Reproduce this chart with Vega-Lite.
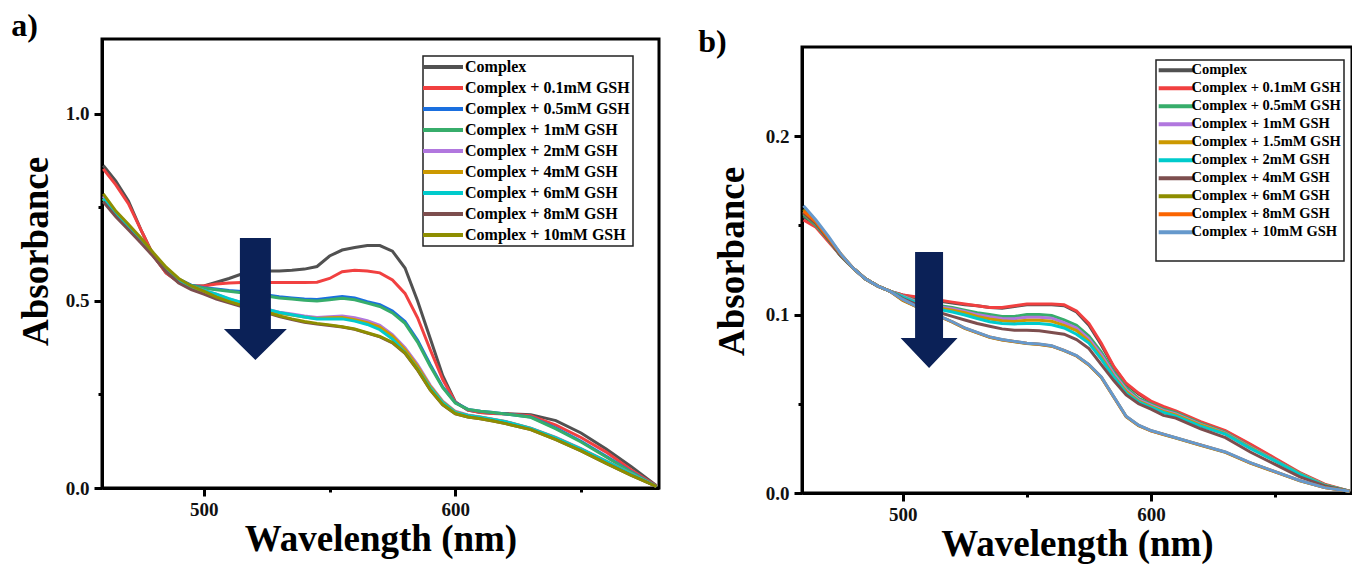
{
"$schema": "https://vega.github.io/schema/vega-lite/v6.json",
"background": "white",
"padding": {"left": 9, "top": 8, "right": 0, "bottom": 0},
"config": {
  "font": "Liberation Serif",
  "view": {"stroke": "black", "strokeWidth": 3},
  "axis": {"grid": false, "domainColor": "black", "domainWidth": 3, "tickColor": "black", "tickWidth": 3,
    "labelFont": "Liberation Serif", "labelFontWeight": "bold", "labelFontSize": 19, "labelColor": "#111",
    "titleFont": "Liberation Serif", "titleFontWeight": "bold", "titleFontSize": 37, "titleColor": "black"},
  "legend": {"labelFont": "Liberation Serif", "labelFontWeight": "bold", "labelColor": "black", "labelLimit": 400, "strokeColor": "#222", "fillColor": "white", "strokeWidth": 1.5, "symbolStrokeWidth": 4, "title": null},
  "title": {"font": "Liberation Serif", "fontWeight": "bold", "fontSize": 32, "color": "black", "anchor": "start", "frame": "bounds"}
},
"datasets": {
"a": [
{"s":0,"w":460,"v":0.862},{"s":0,"w":465,"v":0.82},{"s":0,"w":470,"v":0.767},{"s":0,"w":475,"v":0.69},{"s":0,"w":480,"v":0.62},{"s":0,"w":485,"v":0.575},{"s":0,"w":490,"v":0.55},{"s":0,"w":495,"v":0.54},{"s":0,"w":500,"v":0.54},{"s":0,"w":505,"v":0.55},{"s":0,"w":510,"v":0.56},{"s":0,"w":515,"v":0.572},{"s":0,"w":520,"v":0.576},{"s":0,"w":525,"v":0.58},{"s":0,"w":530,"v":0.58},{"s":0,"w":535,"v":0.582},{"s":0,"w":540,"v":0.585},{"s":0,"w":545,"v":0.592},{"s":0,"w":550,"v":0.62},{"s":0,"w":555,"v":0.636},{"s":0,"w":560,"v":0.643},{"s":0,"w":565,"v":0.648},{"s":0,"w":570,"v":0.648},{"s":0,"w":575,"v":0.633},{"s":0,"w":580,"v":0.588},{"s":0,"w":585,"v":0.5},{"s":0,"w":590,"v":0.4},{"s":0,"w":595,"v":0.3},{"s":0,"w":600,"v":0.23},{"s":0,"w":605,"v":0.208},{"s":0,"w":610,"v":0.202},{"s":0,"w":615,"v":0.2},{"s":0,"w":620,"v":0.199},{"s":0,"w":630,"v":0.196},{"s":0,"w":640,"v":0.18},{"s":0,"w":650,"v":0.147},{"s":0,"w":660,"v":0.104},{"s":0,"w":670,"v":0.057},{"s":0,"w":680,"v":0.006},
{"s":1,"w":460,"v":0.853},{"s":1,"w":465,"v":0.81},{"s":1,"w":470,"v":0.76},{"s":1,"w":475,"v":0.69},{"s":1,"w":480,"v":0.62},{"s":1,"w":485,"v":0.575},{"s":1,"w":490,"v":0.55},{"s":1,"w":495,"v":0.54},{"s":1,"w":500,"v":0.54},{"s":1,"w":505,"v":0.545},{"s":1,"w":510,"v":0.548},{"s":1,"w":515,"v":0.549},{"s":1,"w":520,"v":0.549},{"s":1,"w":525,"v":0.549},{"s":1,"w":530,"v":0.549},{"s":1,"w":535,"v":0.549},{"s":1,"w":540,"v":0.549},{"s":1,"w":545,"v":0.55},{"s":1,"w":550,"v":0.56},{"s":1,"w":555,"v":0.578},{"s":1,"w":560,"v":0.582},{"s":1,"w":565,"v":0.58},{"s":1,"w":570,"v":0.575},{"s":1,"w":575,"v":0.556},{"s":1,"w":580,"v":0.52},{"s":1,"w":585,"v":0.455},{"s":1,"w":590,"v":0.37},{"s":1,"w":595,"v":0.29},{"s":1,"w":600,"v":0.23},{"s":1,"w":605,"v":0.208},{"s":1,"w":610,"v":0.202},{"s":1,"w":615,"v":0.199},{"s":1,"w":620,"v":0.198},{"s":1,"w":630,"v":0.193},{"s":1,"w":640,"v":0.168},{"s":1,"w":650,"v":0.135},{"s":1,"w":660,"v":0.096},{"s":1,"w":670,"v":0.048},{"s":1,"w":680,"v":0.005},
{"s":2,"w":460,"v":0.78},{"s":2,"w":465,"v":0.735},{"s":2,"w":470,"v":0.7},{"s":2,"w":475,"v":0.665},{"s":2,"w":480,"v":0.625},{"s":2,"w":485,"v":0.585},{"s":2,"w":490,"v":0.558},{"s":2,"w":495,"v":0.542},{"s":2,"w":500,"v":0.535},{"s":2,"w":505,"v":0.532},{"s":2,"w":510,"v":0.528},{"s":2,"w":515,"v":0.525},{"s":2,"w":520,"v":0.522},{"s":2,"w":525,"v":0.516},{"s":2,"w":530,"v":0.511},{"s":2,"w":535,"v":0.508},{"s":2,"w":540,"v":0.505},{"s":2,"w":545,"v":0.504},{"s":2,"w":550,"v":0.508},{"s":2,"w":555,"v":0.512},{"s":2,"w":560,"v":0.508},{"s":2,"w":565,"v":0.498},{"s":2,"w":570,"v":0.49},{"s":2,"w":575,"v":0.473},{"s":2,"w":580,"v":0.445},{"s":2,"w":585,"v":0.395},{"s":2,"w":590,"v":0.33},{"s":2,"w":595,"v":0.27},{"s":2,"w":600,"v":0.228},{"s":2,"w":605,"v":0.21},{"s":2,"w":610,"v":0.205},{"s":2,"w":615,"v":0.202},{"s":2,"w":620,"v":0.198},{"s":2,"w":630,"v":0.19},{"s":2,"w":640,"v":0.16},{"s":2,"w":650,"v":0.125},{"s":2,"w":660,"v":0.085},{"s":2,"w":670,"v":0.043},{"s":2,"w":680,"v":0.004},
{"s":3,"w":460,"v":0.775},{"s":3,"w":465,"v":0.73},{"s":3,"w":470,"v":0.695},{"s":3,"w":475,"v":0.663},{"s":3,"w":480,"v":0.624},{"s":3,"w":485,"v":0.584},{"s":3,"w":490,"v":0.557},{"s":3,"w":495,"v":0.541},{"s":3,"w":500,"v":0.534},{"s":3,"w":505,"v":0.53},{"s":3,"w":510,"v":0.526},{"s":3,"w":515,"v":0.522},{"s":3,"w":520,"v":0.519},{"s":3,"w":525,"v":0.513},{"s":3,"w":530,"v":0.508},{"s":3,"w":535,"v":0.505},{"s":3,"w":540,"v":0.502},{"s":3,"w":545,"v":0.5},{"s":3,"w":550,"v":0.503},{"s":3,"w":555,"v":0.507},{"s":3,"w":560,"v":0.503},{"s":3,"w":565,"v":0.494},{"s":3,"w":570,"v":0.485},{"s":3,"w":575,"v":0.468},{"s":3,"w":580,"v":0.44},{"s":3,"w":585,"v":0.39},{"s":3,"w":590,"v":0.326},{"s":3,"w":595,"v":0.268},{"s":3,"w":600,"v":0.227},{"s":3,"w":605,"v":0.21},{"s":3,"w":610,"v":0.205},{"s":3,"w":615,"v":0.202},{"s":3,"w":620,"v":0.198},{"s":3,"w":630,"v":0.189},{"s":3,"w":640,"v":0.158},{"s":3,"w":650,"v":0.123},{"s":3,"w":660,"v":0.083},{"s":3,"w":670,"v":0.042},{"s":3,"w":680,"v":0.004},
{"s":4,"w":460,"v":0.78},{"s":4,"w":465,"v":0.735},{"s":4,"w":470,"v":0.7},{"s":4,"w":475,"v":0.665},{"s":4,"w":480,"v":0.625},{"s":4,"w":485,"v":0.585},{"s":4,"w":490,"v":0.555},{"s":4,"w":495,"v":0.538},{"s":4,"w":500,"v":0.528},{"s":4,"w":505,"v":0.518},{"s":4,"w":510,"v":0.505},{"s":4,"w":515,"v":0.495},{"s":4,"w":520,"v":0.487},{"s":4,"w":525,"v":0.478},{"s":4,"w":530,"v":0.47},{"s":4,"w":535,"v":0.465},{"s":4,"w":540,"v":0.46},{"s":4,"w":545,"v":0.456},{"s":4,"w":550,"v":0.458},{"s":4,"w":555,"v":0.46},{"s":4,"w":560,"v":0.455},{"s":4,"w":565,"v":0.447},{"s":4,"w":570,"v":0.435},{"s":4,"w":575,"v":0.41},{"s":4,"w":580,"v":0.375},{"s":4,"w":585,"v":0.33},{"s":4,"w":590,"v":0.275},{"s":4,"w":595,"v":0.232},{"s":4,"w":600,"v":0.205},{"s":4,"w":605,"v":0.195},{"s":4,"w":610,"v":0.19},{"s":4,"w":615,"v":0.184},{"s":4,"w":620,"v":0.178},{"s":4,"w":630,"v":0.16},{"s":4,"w":640,"v":0.135},{"s":4,"w":650,"v":0.105},{"s":4,"w":660,"v":0.072},{"s":4,"w":670,"v":0.038},{"s":4,"w":680,"v":0.004},
{"s":5,"w":460,"v":0.772},{"s":5,"w":465,"v":0.73},{"s":5,"w":470,"v":0.697},{"s":5,"w":475,"v":0.662},{"s":5,"w":480,"v":0.622},{"s":5,"w":485,"v":0.582},{"s":5,"w":490,"v":0.553},{"s":5,"w":495,"v":0.536},{"s":5,"w":500,"v":0.526},{"s":5,"w":505,"v":0.515},{"s":5,"w":510,"v":0.502},{"s":5,"w":515,"v":0.492},{"s":5,"w":520,"v":0.484},{"s":5,"w":525,"v":0.475},{"s":5,"w":530,"v":0.467},{"s":5,"w":535,"v":0.462},{"s":5,"w":540,"v":0.457},{"s":5,"w":545,"v":0.453},{"s":5,"w":550,"v":0.455},{"s":5,"w":555,"v":0.456},{"s":5,"w":560,"v":0.45},{"s":5,"w":565,"v":0.442},{"s":5,"w":570,"v":0.43},{"s":5,"w":575,"v":0.406},{"s":5,"w":580,"v":0.37},{"s":5,"w":585,"v":0.325},{"s":5,"w":590,"v":0.272},{"s":5,"w":595,"v":0.23},{"s":5,"w":600,"v":0.203},{"s":5,"w":605,"v":0.194},{"s":5,"w":610,"v":0.189},{"s":5,"w":615,"v":0.183},{"s":5,"w":620,"v":0.177},{"s":5,"w":630,"v":0.159},{"s":5,"w":640,"v":0.134},{"s":5,"w":650,"v":0.104},{"s":5,"w":660,"v":0.071},{"s":5,"w":670,"v":0.037},{"s":5,"w":680,"v":0.004},
{"s":6,"w":460,"v":0.773},{"s":6,"w":465,"v":0.732},{"s":6,"w":470,"v":0.698},{"s":6,"w":475,"v":0.664},{"s":6,"w":480,"v":0.624},{"s":6,"w":485,"v":0.584},{"s":6,"w":490,"v":0.555},{"s":6,"w":495,"v":0.538},{"s":6,"w":500,"v":0.528},{"s":6,"w":505,"v":0.518},{"s":6,"w":510,"v":0.506},{"s":6,"w":515,"v":0.496},{"s":6,"w":520,"v":0.488},{"s":6,"w":525,"v":0.478},{"s":6,"w":530,"v":0.469},{"s":6,"w":535,"v":0.463},{"s":6,"w":540,"v":0.457},{"s":6,"w":545,"v":0.452},{"s":6,"w":550,"v":0.452},{"s":6,"w":555,"v":0.452},{"s":6,"w":560,"v":0.446},{"s":6,"w":565,"v":0.437},{"s":6,"w":570,"v":0.423},{"s":6,"w":575,"v":0.398},{"s":6,"w":580,"v":0.362},{"s":6,"w":585,"v":0.318},{"s":6,"w":590,"v":0.268},{"s":6,"w":595,"v":0.228},{"s":6,"w":600,"v":0.202},{"s":6,"w":605,"v":0.194},{"s":6,"w":610,"v":0.189},{"s":6,"w":615,"v":0.183},{"s":6,"w":620,"v":0.177},{"s":6,"w":630,"v":0.159},{"s":6,"w":640,"v":0.134},{"s":6,"w":650,"v":0.104},{"s":6,"w":660,"v":0.071},{"s":6,"w":670,"v":0.037},{"s":6,"w":680,"v":0.004},
{"s":7,"w":460,"v":0.765},{"s":7,"w":465,"v":0.725},{"s":7,"w":470,"v":0.69},{"s":7,"w":475,"v":0.655},{"s":7,"w":480,"v":0.618},{"s":7,"w":485,"v":0.578},{"s":7,"w":490,"v":0.548},{"s":7,"w":495,"v":0.53},{"s":7,"w":500,"v":0.518},{"s":7,"w":505,"v":0.505},{"s":7,"w":510,"v":0.495},{"s":7,"w":515,"v":0.485},{"s":7,"w":520,"v":0.478},{"s":7,"w":525,"v":0.468},{"s":7,"w":530,"v":0.458},{"s":7,"w":535,"v":0.45},{"s":7,"w":540,"v":0.443},{"s":7,"w":545,"v":0.438},{"s":7,"w":550,"v":0.434},{"s":7,"w":555,"v":0.43},{"s":7,"w":560,"v":0.424},{"s":7,"w":565,"v":0.414},{"s":7,"w":570,"v":0.404},{"s":7,"w":575,"v":0.388},{"s":7,"w":580,"v":0.36},{"s":7,"w":585,"v":0.315},{"s":7,"w":590,"v":0.262},{"s":7,"w":595,"v":0.222},{"s":7,"w":600,"v":0.198},{"s":7,"w":605,"v":0.19},{"s":7,"w":610,"v":0.185},{"s":7,"w":615,"v":0.179},{"s":7,"w":620,"v":0.172},{"s":7,"w":630,"v":0.156},{"s":7,"w":640,"v":0.129},{"s":7,"w":650,"v":0.099},{"s":7,"w":660,"v":0.066},{"s":7,"w":670,"v":0.034},{"s":7,"w":680,"v":0.004},
{"s":8,"w":460,"v":0.786},{"s":8,"w":465,"v":0.74},{"s":8,"w":470,"v":0.705},{"s":8,"w":475,"v":0.668},{"s":8,"w":480,"v":0.628},{"s":8,"w":485,"v":0.59},{"s":8,"w":490,"v":0.56},{"s":8,"w":495,"v":0.54},{"s":8,"w":500,"v":0.526},{"s":8,"w":505,"v":0.51},{"s":8,"w":510,"v":0.498},{"s":8,"w":515,"v":0.488},{"s":8,"w":520,"v":0.48},{"s":8,"w":525,"v":0.47},{"s":8,"w":530,"v":0.46},{"s":8,"w":535,"v":0.452},{"s":8,"w":540,"v":0.445},{"s":8,"w":545,"v":0.44},{"s":8,"w":550,"v":0.436},{"s":8,"w":555,"v":0.431},{"s":8,"w":560,"v":0.425},{"s":8,"w":565,"v":0.415},{"s":8,"w":570,"v":0.405},{"s":8,"w":575,"v":0.389},{"s":8,"w":580,"v":0.361},{"s":8,"w":585,"v":0.316},{"s":8,"w":590,"v":0.263},{"s":8,"w":595,"v":0.223},{"s":8,"w":600,"v":0.199},{"s":8,"w":605,"v":0.19},{"s":8,"w":610,"v":0.185},{"s":8,"w":615,"v":0.179},{"s":8,"w":620,"v":0.172},{"s":8,"w":630,"v":0.156},{"s":8,"w":640,"v":0.129},{"s":8,"w":650,"v":0.099},{"s":8,"w":660,"v":0.066},{"s":8,"w":670,"v":0.034},{"s":8,"w":680,"v":0.004}
],
"b": [
{"s":0,"w":460,"v":0.155},{"s":0,"w":465,"v":0.15},{"s":0,"w":470,"v":0.142},{"s":0,"w":475,"v":0.133},{"s":0,"w":480,"v":0.126},{"s":0,"w":485,"v":0.12},{"s":0,"w":490,"v":0.116},{"s":0,"w":495,"v":0.113},{"s":0,"w":500,"v":0.111},{"s":0,"w":505,"v":0.1095},{"s":0,"w":510,"v":0.1085},{"s":0,"w":515,"v":0.1075},{"s":0,"w":520,"v":0.1065},{"s":0,"w":525,"v":0.1055},{"s":0,"w":530,"v":0.105},{"s":0,"w":535,"v":0.104},{"s":0,"w":540,"v":0.1035},{"s":0,"w":545,"v":0.1045},{"s":0,"w":550,"v":0.1055},{"s":0,"w":555,"v":0.1055},{"s":0,"w":560,"v":0.1055},{"s":0,"w":565,"v":0.105},{"s":0,"w":570,"v":0.1015},{"s":0,"w":575,"v":0.094},{"s":0,"w":580,"v":0.083},{"s":0,"w":585,"v":0.0705},{"s":0,"w":590,"v":0.061},{"s":0,"w":595,"v":0.0555},{"s":0,"w":600,"v":0.051},{"s":0,"w":605,"v":0.048},{"s":0,"w":610,"v":0.0455},{"s":0,"w":620,"v":0.0395},{"s":0,"w":630,"v":0.0345},{"s":0,"w":640,"v":0.027},{"s":0,"w":650,"v":0.019},{"s":0,"w":660,"v":0.011},{"s":0,"w":670,"v":0.0045},{"s":0,"w":680,"v":0.001},
{"s":1,"w":460,"v":0.153},{"s":1,"w":465,"v":0.149},{"s":1,"w":470,"v":0.141},{"s":1,"w":475,"v":0.133},{"s":1,"w":480,"v":0.126},{"s":1,"w":485,"v":0.12},{"s":1,"w":490,"v":0.116},{"s":1,"w":495,"v":0.113},{"s":1,"w":500,"v":0.111},{"s":1,"w":505,"v":0.11},{"s":1,"w":510,"v":0.109},{"s":1,"w":515,"v":0.108},{"s":1,"w":520,"v":0.107},{"s":1,"w":525,"v":0.106},{"s":1,"w":530,"v":0.105},{"s":1,"w":535,"v":0.104},{"s":1,"w":540,"v":0.104},{"s":1,"w":545,"v":0.105},{"s":1,"w":550,"v":0.106},{"s":1,"w":555,"v":0.106},{"s":1,"w":560,"v":0.106},{"s":1,"w":565,"v":0.1055},{"s":1,"w":570,"v":0.102},{"s":1,"w":575,"v":0.095},{"s":1,"w":580,"v":0.084},{"s":1,"w":585,"v":0.071},{"s":1,"w":590,"v":0.0615},{"s":1,"w":595,"v":0.056},{"s":1,"w":600,"v":0.0515},{"s":1,"w":605,"v":0.0485},{"s":1,"w":610,"v":0.046},{"s":1,"w":620,"v":0.04},{"s":1,"w":630,"v":0.035},{"s":1,"w":640,"v":0.0275},{"s":1,"w":650,"v":0.0195},{"s":1,"w":660,"v":0.0115},{"s":1,"w":670,"v":0.005},{"s":1,"w":680,"v":0.001},
{"s":2,"w":460,"v":0.156},{"s":2,"w":465,"v":0.15},{"s":2,"w":470,"v":0.142},{"s":2,"w":475,"v":0.133},{"s":2,"w":480,"v":0.126},{"s":2,"w":485,"v":0.12},{"s":2,"w":490,"v":0.116},{"s":2,"w":495,"v":0.113},{"s":2,"w":500,"v":0.1105},{"s":2,"w":505,"v":0.108},{"s":2,"w":510,"v":0.106},{"s":2,"w":515,"v":0.105},{"s":2,"w":520,"v":0.104},{"s":2,"w":525,"v":0.1025},{"s":2,"w":530,"v":0.101},{"s":2,"w":535,"v":0.1},{"s":2,"w":540,"v":0.099},{"s":2,"w":545,"v":0.099},{"s":2,"w":550,"v":0.1},{"s":2,"w":555,"v":0.1},{"s":2,"w":560,"v":0.0995},{"s":2,"w":565,"v":0.097},{"s":2,"w":570,"v":0.094},{"s":2,"w":575,"v":0.088},{"s":2,"w":580,"v":0.079},{"s":2,"w":585,"v":0.068},{"s":2,"w":590,"v":0.059},{"s":2,"w":595,"v":0.053},{"s":2,"w":600,"v":0.05},{"s":2,"w":605,"v":0.047},{"s":2,"w":610,"v":0.045},{"s":2,"w":620,"v":0.039},{"s":2,"w":630,"v":0.034},{"s":2,"w":640,"v":0.026},{"s":2,"w":650,"v":0.0185},{"s":2,"w":660,"v":0.011},{"s":2,"w":670,"v":0.0045},{"s":2,"w":680,"v":0.001},
{"s":3,"w":460,"v":0.157},{"s":3,"w":465,"v":0.151},{"s":3,"w":470,"v":0.142},{"s":3,"w":475,"v":0.133},{"s":3,"w":480,"v":0.126},{"s":3,"w":485,"v":0.12},{"s":3,"w":490,"v":0.116},{"s":3,"w":495,"v":0.113},{"s":3,"w":500,"v":0.1103},{"s":3,"w":505,"v":0.1075},{"s":3,"w":510,"v":0.1055},{"s":3,"w":515,"v":0.1043},{"s":3,"w":520,"v":0.1033},{"s":3,"w":525,"v":0.1017},{"s":3,"w":530,"v":0.1},{"s":3,"w":535,"v":0.0988},{"s":3,"w":540,"v":0.0978},{"s":3,"w":545,"v":0.0977},{"s":3,"w":550,"v":0.0985},{"s":3,"w":555,"v":0.0985},{"s":3,"w":560,"v":0.098},{"s":3,"w":565,"v":0.0955},{"s":3,"w":570,"v":0.0925},{"s":3,"w":575,"v":0.0865},{"s":3,"w":580,"v":0.0775},{"s":3,"w":585,"v":0.0668},{"s":3,"w":590,"v":0.058},{"s":3,"w":595,"v":0.0522},{"s":3,"w":600,"v":0.0493},{"s":3,"w":605,"v":0.0463},{"s":3,"w":610,"v":0.0443},{"s":3,"w":620,"v":0.0385},{"s":3,"w":630,"v":0.0336},{"s":3,"w":640,"v":0.0257},{"s":3,"w":650,"v":0.0183},{"s":3,"w":660,"v":0.0108},{"s":3,"w":670,"v":0.0044},{"s":3,"w":680,"v":0.001},
{"s":4,"w":460,"v":0.157},{"s":4,"w":465,"v":0.151},{"s":4,"w":470,"v":0.142},{"s":4,"w":475,"v":0.133},{"s":4,"w":480,"v":0.126},{"s":4,"w":485,"v":0.12},{"s":4,"w":490,"v":0.116},{"s":4,"w":495,"v":0.113},{"s":4,"w":500,"v":0.11},{"s":4,"w":505,"v":0.107},{"s":4,"w":510,"v":0.105},{"s":4,"w":515,"v":0.1035},{"s":4,"w":520,"v":0.1025},{"s":4,"w":525,"v":0.101},{"s":4,"w":530,"v":0.099},{"s":4,"w":535,"v":0.0975},{"s":4,"w":540,"v":0.0965},{"s":4,"w":545,"v":0.0962},{"s":4,"w":550,"v":0.0968},{"s":4,"w":555,"v":0.0968},{"s":4,"w":560,"v":0.0963},{"s":4,"w":565,"v":0.094},{"s":4,"w":570,"v":0.091},{"s":4,"w":575,"v":0.085},{"s":4,"w":580,"v":0.076},{"s":4,"w":585,"v":0.0655},{"s":4,"w":590,"v":0.057},{"s":4,"w":595,"v":0.0515},{"s":4,"w":600,"v":0.0485},{"s":4,"w":605,"v":0.0457},{"s":4,"w":610,"v":0.0437},{"s":4,"w":620,"v":0.0381},{"s":4,"w":630,"v":0.0333},{"s":4,"w":640,"v":0.0255},{"s":4,"w":650,"v":0.0181},{"s":4,"w":660,"v":0.0107},{"s":4,"w":670,"v":0.0043},{"s":4,"w":680,"v":0.001},
{"s":5,"w":460,"v":0.158},{"s":5,"w":465,"v":0.151},{"s":5,"w":470,"v":0.142},{"s":5,"w":475,"v":0.133},{"s":5,"w":480,"v":0.126},{"s":5,"w":485,"v":0.12},{"s":5,"w":490,"v":0.116},{"s":5,"w":495,"v":0.113},{"s":5,"w":500,"v":0.11},{"s":5,"w":505,"v":0.1068},{"s":5,"w":510,"v":0.1045},{"s":5,"w":515,"v":0.1028},{"s":5,"w":520,"v":0.1015},{"s":5,"w":525,"v":0.0998},{"s":5,"w":530,"v":0.0978},{"s":5,"w":535,"v":0.096},{"s":5,"w":540,"v":0.095},{"s":5,"w":545,"v":0.0948},{"s":5,"w":550,"v":0.095},{"s":5,"w":555,"v":0.095},{"s":5,"w":560,"v":0.0943},{"s":5,"w":565,"v":0.0925},{"s":5,"w":570,"v":0.089},{"s":5,"w":575,"v":0.084},{"s":5,"w":580,"v":0.075},{"s":5,"w":585,"v":0.065},{"s":5,"w":590,"v":0.056},{"s":5,"w":595,"v":0.051},{"s":5,"w":600,"v":0.048},{"s":5,"w":605,"v":0.0452},{"s":5,"w":610,"v":0.043},{"s":5,"w":620,"v":0.0375},{"s":5,"w":630,"v":0.033},{"s":5,"w":640,"v":0.025},{"s":5,"w":650,"v":0.018},{"s":5,"w":660,"v":0.0105},{"s":5,"w":670,"v":0.0042},{"s":5,"w":680,"v":0.001},
{"s":6,"w":460,"v":0.157},{"s":6,"w":465,"v":0.151},{"s":6,"w":470,"v":0.142},{"s":6,"w":475,"v":0.133},{"s":6,"w":480,"v":0.126},{"s":6,"w":485,"v":0.12},{"s":6,"w":490,"v":0.116},{"s":6,"w":495,"v":0.113},{"s":6,"w":500,"v":0.109},{"s":6,"w":505,"v":0.106},{"s":6,"w":510,"v":0.103},{"s":6,"w":515,"v":0.101},{"s":6,"w":520,"v":0.099},{"s":6,"w":525,"v":0.097},{"s":6,"w":530,"v":0.095},{"s":6,"w":535,"v":0.0935},{"s":6,"w":540,"v":0.092},{"s":6,"w":545,"v":0.0912},{"s":6,"w":550,"v":0.0912},{"s":6,"w":555,"v":0.091},{"s":6,"w":560,"v":0.09},{"s":6,"w":565,"v":0.089},{"s":6,"w":570,"v":0.086},{"s":6,"w":575,"v":0.081},{"s":6,"w":580,"v":0.072},{"s":6,"w":585,"v":0.063},{"s":6,"w":590,"v":0.055},{"s":6,"w":595,"v":0.05},{"s":6,"w":600,"v":0.047},{"s":6,"w":605,"v":0.0435},{"s":6,"w":610,"v":0.042},{"s":6,"w":620,"v":0.036},{"s":6,"w":630,"v":0.031},{"s":6,"w":640,"v":0.023},{"s":6,"w":650,"v":0.016},{"s":6,"w":660,"v":0.009},{"s":6,"w":670,"v":0.004},{"s":6,"w":680,"v":0.001},
{"s":7,"w":460,"v":0.159},{"s":7,"w":465,"v":0.152},{"s":7,"w":470,"v":0.143},{"s":7,"w":475,"v":0.134},{"s":7,"w":480,"v":0.126},{"s":7,"w":485,"v":0.12},{"s":7,"w":490,"v":0.116},{"s":7,"w":495,"v":0.113},{"s":7,"w":500,"v":0.108},{"s":7,"w":505,"v":0.1048},{"s":7,"w":510,"v":0.1018},{"s":7,"w":515,"v":0.0988},{"s":7,"w":520,"v":0.0958},{"s":7,"w":525,"v":0.0923},{"s":7,"w":530,"v":0.0898},{"s":7,"w":535,"v":0.0873},{"s":7,"w":540,"v":0.0858},{"s":7,"w":545,"v":0.0848},{"s":7,"w":550,"v":0.0838},{"s":7,"w":555,"v":0.0833},{"s":7,"w":560,"v":0.0823},{"s":7,"w":565,"v":0.0798},{"s":7,"w":570,"v":0.0768},{"s":7,"w":575,"v":0.0718},{"s":7,"w":580,"v":0.0648},{"s":7,"w":585,"v":0.0538},{"s":7,"w":590,"v":0.0428},{"s":7,"w":595,"v":0.0378},{"s":7,"w":600,"v":0.0348},{"s":7,"w":605,"v":0.0328},{"s":7,"w":610,"v":0.0308},{"s":7,"w":620,"v":0.0268},{"s":7,"w":630,"v":0.0228},{"s":7,"w":640,"v":0.0168},{"s":7,"w":650,"v":0.0118},{"s":7,"w":660,"v":0.0068},{"s":7,"w":670,"v":0.003},{"s":7,"w":680,"v":0.001},
{"s":8,"w":460,"v":0.158},{"s":8,"w":465,"v":0.152},{"s":8,"w":470,"v":0.143},{"s":8,"w":475,"v":0.134},{"s":8,"w":480,"v":0.126},{"s":8,"w":485,"v":0.12},{"s":8,"w":490,"v":0.116},{"s":8,"w":495,"v":0.113},{"s":8,"w":500,"v":0.1082},{"s":8,"w":505,"v":0.1049},{"s":8,"w":510,"v":0.1019},{"s":8,"w":515,"v":0.0989},{"s":8,"w":520,"v":0.0959},{"s":8,"w":525,"v":0.0924},{"s":8,"w":530,"v":0.0899},{"s":8,"w":535,"v":0.0874},{"s":8,"w":540,"v":0.0859},{"s":8,"w":545,"v":0.0849},{"s":8,"w":550,"v":0.0839},{"s":8,"w":555,"v":0.0834},{"s":8,"w":560,"v":0.0824},{"s":8,"w":565,"v":0.0799},{"s":8,"w":570,"v":0.0769},{"s":8,"w":575,"v":0.0719},{"s":8,"w":580,"v":0.0649},{"s":8,"w":585,"v":0.0539},{"s":8,"w":590,"v":0.0429},{"s":8,"w":595,"v":0.0379},{"s":8,"w":600,"v":0.0349},{"s":8,"w":605,"v":0.0329},{"s":8,"w":610,"v":0.0309},{"s":8,"w":620,"v":0.0269},{"s":8,"w":630,"v":0.0229},{"s":8,"w":640,"v":0.0169},{"s":8,"w":650,"v":0.0119},{"s":8,"w":660,"v":0.0069},{"s":8,"w":670,"v":0.003},{"s":8,"w":680,"v":0.001},
{"s":9,"w":460,"v":0.161},{"s":9,"w":465,"v":0.153},{"s":9,"w":470,"v":0.144},{"s":9,"w":475,"v":0.134},{"s":9,"w":480,"v":0.126},{"s":9,"w":485,"v":0.12},{"s":9,"w":490,"v":0.116},{"s":9,"w":495,"v":0.113},{"s":9,"w":500,"v":0.1085},{"s":9,"w":505,"v":0.105},{"s":9,"w":510,"v":0.102},{"s":9,"w":515,"v":0.099},{"s":9,"w":520,"v":0.096},{"s":9,"w":525,"v":0.0925},{"s":9,"w":530,"v":0.09},{"s":9,"w":535,"v":0.0875},{"s":9,"w":540,"v":0.086},{"s":9,"w":545,"v":0.085},{"s":9,"w":550,"v":0.084},{"s":9,"w":555,"v":0.0835},{"s":9,"w":560,"v":0.0825},{"s":9,"w":565,"v":0.08},{"s":9,"w":570,"v":0.077},{"s":9,"w":575,"v":0.072},{"s":9,"w":580,"v":0.065},{"s":9,"w":585,"v":0.054},{"s":9,"w":590,"v":0.043},{"s":9,"w":595,"v":0.038},{"s":9,"w":600,"v":0.035},{"s":9,"w":605,"v":0.033},{"s":9,"w":610,"v":0.031},{"s":9,"w":620,"v":0.027},{"s":9,"w":630,"v":0.023},{"s":9,"w":640,"v":0.017},{"s":9,"w":650,"v":0.012},{"s":9,"w":660,"v":0.007},{"s":9,"w":670,"v":0.003},{"s":9,"w":680,"v":0.001}
]
},
"spacing": 35,
"resolve": {"scale": {"color": "independent"}, "legend": {"color": "independent"}},
"hconcat": [
{
  "width": 557, "height": 449,
  "title": {"text": "a)", "offset": -4, "dx": -6},
  "layer": [
    {
      "data": {"name": "a"},
      "mark": {"type": "line", "strokeWidth": 3, "clip": true},
      "encoding": {
        "x": {"field": "w", "type": "quantitative", "scale": {"domain": [459.5, 681], "nice": false, "zero": false},
          "axis": {"title": "Wavelength (nm)", "values": [500, 550, 600, 650], "labelExpr": "datum.value % 100 == 0 ? datum.label : ''",
            "tickSize": {"condition": {"test": "datum.value % 100 == 0", "value": 8}, "value": 4}, "labelPadding": 4, "titlePadding": 2}},
        "y": {"field": "v", "type": "quantitative", "scale": {"domain": [0, 1.2], "nice": false},
          "axis": {"title": "Absorbance", "titleY": 212, "values": [0, 0.25, 0.5, 0.75, 1], "format": ".1f", "labelExpr": "round(datum.value*4) % 2 == 0 ? datum.label : ''",
            "tickSize": {"condition": {"test": "round(datum.value*4) % 2 == 0", "value": 8}, "value": 4}, "labelPadding": 5, "titlePadding": 10}},
        "color": {"field": "s", "type": "nominal",
          "scale": {"domain": [0,1,2,3,4,5,6,7,8], "range": ["#515151","#F14040","#1A6FDF","#37AD6B","#B177DE","#CC9900","#00CBCC","#7D4E4E","#8E8E00"]},
          "legend": {"orient": "none", "legendX": 321, "legendY": 17, "symbolType": "M-2.75,0H7.25", "symbolSize": 64, "labelFontSize": 16, "labelOffset": 23, "rowPadding": 5, "padding": 3,
            "labelExpr": "['Complex','Complex + 0.1mM GSH','Complex + 0.5mM GSH','Complex + 1mM GSH','Complex + 2mM GSH','Complex + 4mM GSH','Complex + 6mM GSH','Complex + 8mM GSH','Complex + 10mM GSH'][datum.value]"}}
      }
    },
    {
      "data": {"values": [{"w": 520.5, "v": 0.505}]},
      "mark": {"type": "point", "shape": "M-0.254,-1L0.254,-1L0.254,0.49L0.516,0.49L0,1L-0.516,0.49L-0.254,0.49Z", "filled": true, "size": 14884, "color": "#0b2157", "opacity": 1},
      "encoding": {"x": {"field": "w", "type": "quantitative"}, "y": {"field": "v", "type": "quantitative"}}
    }
  ]
},
{
  "spacing": 0,
  "bounds": "flush",
  "vconcat": [
    {
      "width": 550, "height": 8,
      "view": {"stroke": null},
      "data": {"values": [{"k": 1}]},
      "mark": {"type": "point", "opacity": 0},
      "encoding": {}
    },
    {
      "width": 550, "height": 446,
      "title": {"text": "b)", "offset": -12, "dx": -15},
      "layer": [
        {
          "data": {"name": "b"},
          "mark": {"type": "line", "strokeWidth": 3, "clip": true},
          "encoding": {
            "x": {"field": "w", "type": "quantitative", "scale": {"domain": [459.4, 681], "nice": false, "zero": false},
              "axis": {"title": "Wavelength (nm)", "values": [500, 550, 600, 650], "labelExpr": "datum.value % 100 == 0 ? datum.label : ''",
                "tickSize": {"condition": {"test": "datum.value % 100 == 0", "value": 8}, "value": 4}, "labelPadding": 4, "titlePadding": 2}},
            "y": {"field": "v", "type": "quantitative", "scale": {"domain": [0, 0.25], "nice": false},
              "axis": {"title": "Absorbance", "titleY": 214, "values": [0, 0.05, 0.1, 0.15, 0.2], "format": ".1f", "labelExpr": "round(datum.value*20) % 2 == 0 ? datum.label : ''",
                "tickSize": {"condition": {"test": "round(datum.value*20) % 2 == 0", "value": 8}, "value": 4}, "labelPadding": 5, "titlePadding": 14}},
            "color": {"field": "s", "type": "nominal",
              "scale": {"domain": [0,1,2,3,4,5,6,7,8,9], "range": ["#515151","#F14040","#37AD6B","#B177DE","#CC9900","#00CBCC","#7D4E4E","#8E8E00","#FB6501","#6699CC"]},
              "legend": {"orient": "none", "legendX": 354, "legendY": 21, "symbolType": "M-2.1,0H7.9", "symbolSize": 52, "labelFontSize": 14.5, "labelOffset": 18, "rowPadding": 1, "padding": 3,
                "title": " ", "titleOrient": "bottom", "titleFontSize": 14, "titlePadding": 4,
                "labelExpr": "['Complex','Complex + 0.1mM GSH','Complex + 0.5mM GSH','Complex + 1mM GSH','Complex + 1.5mM GSH','Complex + 2mM GSH','Complex + 4mM GSH','Complex + 6mM GSH','Complex + 8mM GSH','Complex + 10mM GSH'][datum.value]"}}
          }
        },
        {
          "data": {"values": [{"w": 510.6, "v": 0.1026}]},
          "mark": {"type": "point", "shape": "M-0.241,-1L0.241,-1L0.241,0.483L0.491,0.483L0,1L-0.491,0.483L-0.241,0.483Z", "filled": true, "size": 13456, "color": "#0b2157", "opacity": 1},
          "encoding": {"x": {"field": "w", "type": "quantitative"}, "y": {"field": "v", "type": "quantitative"}}
        }
      ]
    }
  ]
}
]
}
